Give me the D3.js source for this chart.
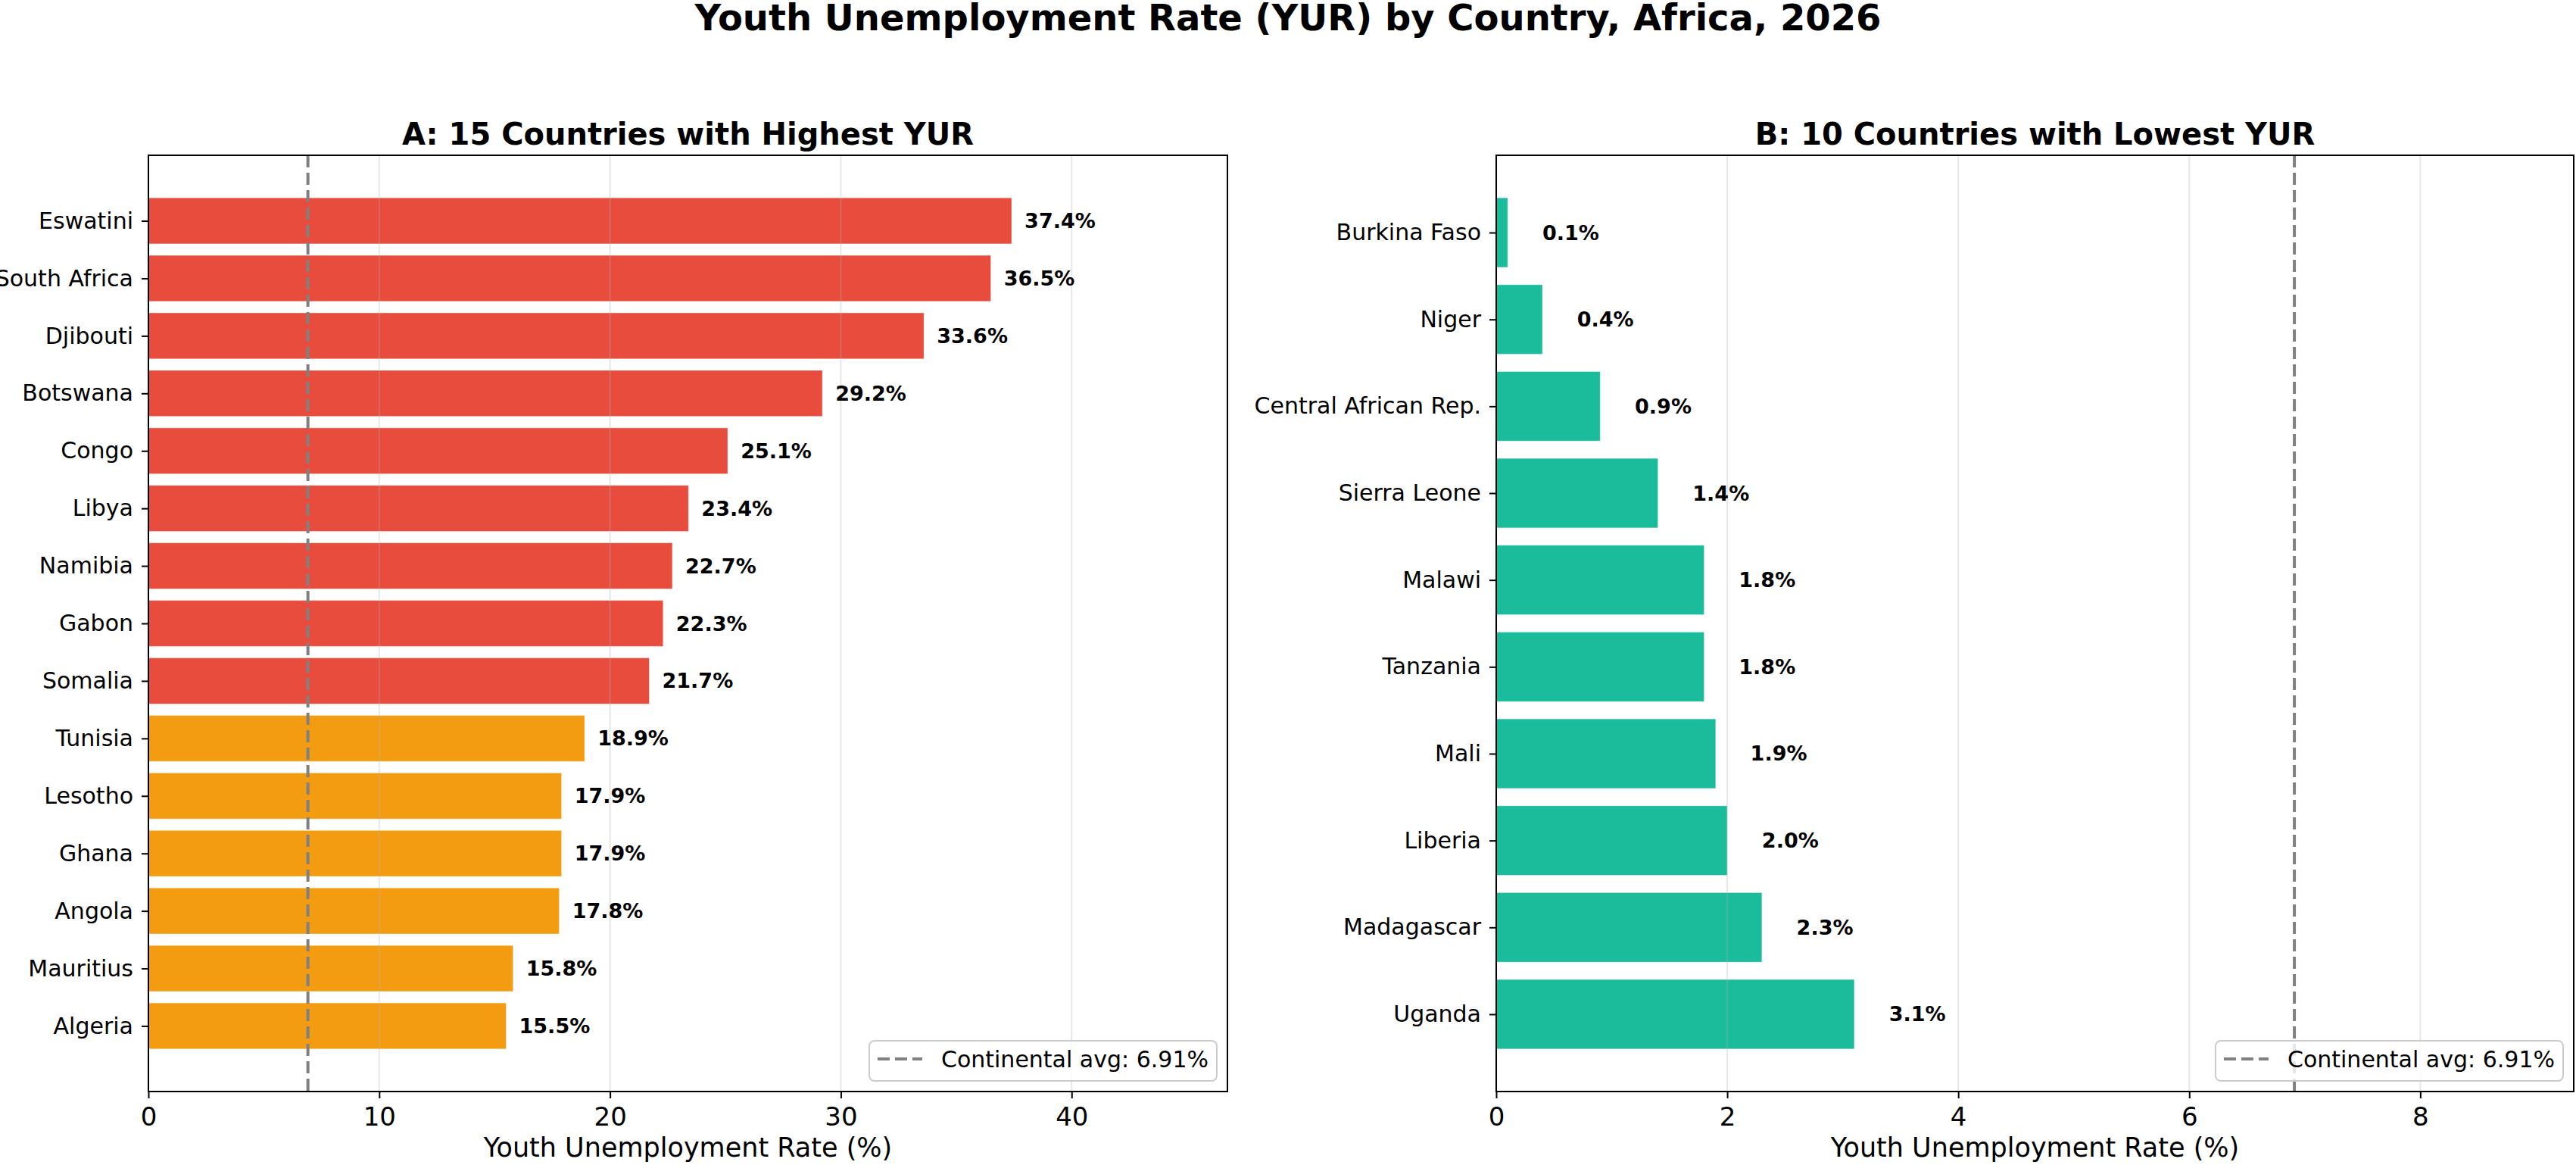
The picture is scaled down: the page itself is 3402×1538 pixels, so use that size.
<!DOCTYPE html>
<html>
<head>
<meta charset="utf-8">
<script src="https://cdn.jsdelivr.net/npm/d3@7"></script>
<style>
  body { margin: 0; background: #fff; }
  svg text { font-family: "DejaVu Sans", sans-serif; }
</style>
</head>
<body>
<div id="chart"></div>
<script>
// data
var highCountries = ["Eswatini", "South Africa", "Djibouti", "Botswana", "Congo", "Libya", "Namibia", "Gabon", "Somalia", "Tunisia", "Lesotho", "Ghana", "Angola", "Mauritius", "Algeria"];
var highValues = [37.4, 36.5, 33.6, 29.2, 25.1, 23.4, 22.7, 22.3, 21.7, 18.9, 17.9, 17.9, 17.8, 15.8, 15.5];
var lowCountries = ["Burkina Faso", "Niger", "Central African Rep.", "Sierra Leone", "Malawi", "Tanzania", "Mali", "Liberia", "Madagascar", "Uganda"];
var lowValues = [0.1, 0.4, 0.9, 1.4, 1.8, 1.8, 1.9, 2.0, 2.3, 3.1];
var highTicks = [0, 10, 20, 30, 40];
var lowTicks = [0, 2, 4, 6, 8];
var continentalAvg = 6.91;

var W = 3402, H = 1538;
var svg = d3.select("#chart").append("svg")
	.attr("width", W)
	.attr("height", H);

svg.append("text")
	.attr("x", 1701).attr("y", 40)
	.attr("text-anchor", "middle")
	.style("font-size", "48px").style("font-weight", "bold")
	.text("Youth Unemployment Rate (YUR) by Country, Africa, 2026");

function panel(opts) {
	var left = opts.left, right = opts.right, top = 205, bottom = 1441;
	var n = opts.names.length;
	var x = d3.scaleLinear().domain([0, opts.xmax]).range([left, right]);
	var pad = (n - 1 + 0.8) * 0.05;
	var y = d3.scaleLinear().domain([-0.4 - pad, n - 1 + 0.4 + pad]).range([top, bottom]);
	var g = svg.append("g");

	// bars
	g.selectAll(".bar")
		.data(opts.values)
		.enter().append("rect")
		.attr("class", "bar")
		.attr("x", x(0))
		.attr("y", function(d, i) { return y(i - 0.4); })
		.attr("width", function(d) { return x(d) - x(0); })
		.attr("height", y(0.8) - y(0))
		.style("fill", function(d, i) { return opts.color(d, i); })
		.style("stroke", "#fff")
		.style("stroke-opacity", 0.4)
		.style("stroke-width", 1);

	// grid drawn over the bars, like the original
	g.selectAll(".grid")
		.data(opts.ticks)
		.enter().append("line")
		.attr("x1", function(d) { return x(d); })
		.attr("x2", function(d) { return x(d); })
		.attr("y1", top).attr("y2", bottom)
		.style("stroke", "#b0b0b0")
		.style("stroke-opacity", 0.3)
		.style("stroke-width", 2);

	// average line
	g.append("line")
		.attr("x1", x(continentalAvg)).attr("x2", x(continentalAvg))
		.attr("y1", top).attr("y2", bottom)
		.style("stroke", "#808080")
		.style("stroke-width", 4)
		.style("stroke-dasharray", "16,7");

	// value labels
	g.selectAll(".val")
		.data(opts.values)
		.enter().append("text")
		.attr("x", function(d) { return x(d + opts.offset); })
		.attr("y", function(d, i) { return y(i); })
		.attr("dominant-baseline", "central")
		.style("font-size", "27px").style("font-weight", "bold")
		.text(function(d) { return d.toFixed(1) + "%"; });

	// axes
	var xAxis = g.append("g")
		.attr("transform", "translate(0," + bottom + ")")
		.call(d3.axisBottom(x).tickValues(opts.ticks).tickFormat(d3.format("d")).tickSize(9).tickPadding(12));
	xAxis.select(".domain").remove();
	xAxis.selectAll("text").style("font-size", "34px").attr("fill", "#000");
	xAxis.selectAll("line").style("stroke-width", 2).attr("stroke", "#000");

	var yAxis = g.append("g")
		.attr("transform", "translate(" + left + ",0)")
		.call(d3.axisLeft(y).tickValues(d3.range(n)).tickFormat(function(i) { return opts.names[i]; }).tickSize(9).tickPadding(11));
	yAxis.select(".domain").remove();
	yAxis.selectAll("text").style("font-size", "30px").attr("fill", "#000");
	yAxis.selectAll("line").style("stroke-width", 2).attr("stroke", "#000");

	// frame
	g.append("rect")
		.attr("x", left).attr("y", top)
		.attr("width", right - left).attr("height", bottom - top)
		.style("fill", "none").style("stroke", "#000").style("stroke-width", 2);

	// titles
	g.append("text")
		.attr("x", (left + right) / 2).attr("y", 191)
		.attr("text-anchor", "middle")
		.style("font-size", "40px").style("font-weight", "bold")
		.text(opts.title);
	g.append("text")
		.attr("x", (left + right) / 2).attr("y", 1527)
		.attr("text-anchor", "middle")
		.style("font-size", "35px")
		.text("Youth Unemployment Rate (%)");

	// legend
	var lg = g.append("g");
	var lbox = lg.append("rect")
		.attr("rx", 7).attr("ry", 7)
		.style("fill", "#fff").style("fill-opacity", 0.8)
		.style("stroke", "#cccccc").style("stroke-width", 2);
	var ltext = lg.append("text")
		.style("font-size", "30px")
		.text("Continental avg: " + continentalAvg + "%");
	var tw = ltext.node().getComputedTextLength();
	var bw = tw + 106, bh = 53;
	var bx = right - 14 - bw, by = bottom - 14 - bh;
	lbox.attr("x", bx).attr("y", by).attr("width", bw).attr("height", bh);
	ltext.attr("x", bx + 95).attr("y", by + 35);
	lg.append("line")
		.attr("x1", bx + 11).attr("x2", bx + 70)
		.attr("y1", by + 24).attr("y2", by + 24)
		.style("stroke", "#808080").style("stroke-width", 4)
		.style("stroke-dasharray", "16,7");
}

panel({
	left: 196, right: 1621,
	names: highCountries, values: highValues, ticks: highTicks,
	xmax: d3.max(highValues) * 1.25,
	offset: d3.max(highValues) * 0.015,
	color: function(d) { return d > 20 ? "#e74c3c" : "#f39c12"; },
	title: "A: 15 Countries with Highest YUR"
});

panel({
	left: 1976, right: 3399,
	names: lowCountries, values: lowValues, ticks: lowTicks,
	xmax: continentalAvg * 1.35,
	offset: 0.3,
	color: function() { return "#1abc9c"; },
	title: "B: 10 Countries with Lowest YUR"
});
</script>
</body>
</html>
